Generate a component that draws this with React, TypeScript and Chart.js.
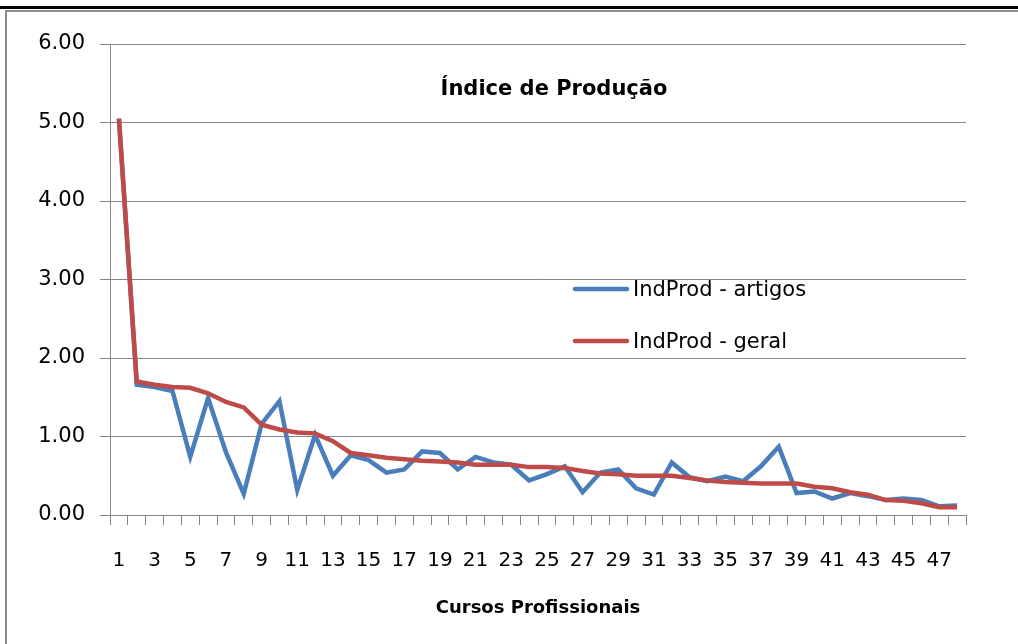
import React, { useEffect, useRef } from 'react';
import { Chart, registerables } from 'chart.js';

Chart.register(...registerables);

const categories: string[] = [
  '1', '2', '3', '4', '5', '6', '7', '8', '9', '10', '11', '12',
  '13', '14', '15', '16', '17', '18', '19', '20', '21', '22', '23', '24',
  '25', '26', '27', '28', '29', '30', '31', '32', '33', '34', '35', '36',
  '37', '38', '39', '40', '41', '42', '43', '44', '45', '46', '47', '48',
];

const indProdArtigos: number[] = [
  5.05, 1.66, 1.63, 1.58, 0.74, 1.49, 0.8, 0.27, 1.16, 1.45, 0.32, 1.02,
  0.5, 0.76, 0.7, 0.54, 0.58, 0.81, 0.79, 0.58, 0.74, 0.67, 0.64, 0.44,
  0.52, 0.62, 0.29, 0.54, 0.58, 0.34, 0.26, 0.67, 0.48, 0.43, 0.49, 0.43,
  0.62, 0.87, 0.28, 0.3, 0.21, 0.28, 0.24, 0.19, 0.21, 0.19, 0.11, 0.12,
];

const indProdGeral: number[] = [
  5.05, 1.7, 1.66, 1.63, 1.62, 1.55, 1.44, 1.37, 1.15, 1.09, 1.05, 1.04,
  0.94, 0.79, 0.76, 0.73, 0.71, 0.69, 0.68, 0.67, 0.64, 0.64, 0.64, 0.61,
  0.61, 0.6, 0.56, 0.53, 0.52, 0.5, 0.5, 0.5, 0.47, 0.44, 0.42, 0.41,
  0.4, 0.4, 0.4, 0.36, 0.34, 0.29, 0.26, 0.19, 0.18, 0.15, 0.1, 0.1,
];

const seriesNames: string[] = ['IndProd - artigos', 'IndProd - geral'];
const seriesColors: string[] = ['#4A7EBB', '#BE4B48'];
const chartTitle = 'Índice de Produção';
const xAxisTitle = 'Cursos Profissionais';
const yMin = 0;
const yMax = 6;
const yStep = 1;

const FONT = '"DejaVu Sans", "Liberation Sans", sans-serif';
const GRID = '#868686';

const overlayPlugin = {
  id: 'overlayTitleLegend',
  afterDraw(chart: any) {
    const ctx = chart.ctx as CanvasRenderingContext2D;
    ctx.save();
    ctx.fillStyle = '#000';
    ctx.textBaseline = 'alphabetic';
    ctx.font = `bold 21px ${FONT}`;
    ctx.textAlign = 'center';
    ctx.fillText(chartTitle, 554, 95);

    const rows = [
      { y: 289, base: 296 },
      { y: 341, base: 348 },
    ];
    ctx.font = `21px ${FONT}`;
    ctx.textAlign = 'left';
    seriesNames.forEach((name, i) => {
      const r = rows[i];
      ctx.strokeStyle = seriesColors[i];
      ctx.lineWidth = 4.5;
      ctx.lineCap = 'round';
      ctx.beginPath();
      ctx.moveTo(575, r.y);
      ctx.lineTo(627, r.y);
      ctx.stroke();
      ctx.fillStyle = '#000';
      ctx.fillText(name, 633, r.base);
    });
    ctx.restore();
  },
};

export default function App() {
  const canvasRef = useRef<HTMLCanvasElement | null>(null);

  useEffect(() => {
    const canvas = canvasRef.current;
    if (!canvas) return;
    const chart = new Chart(canvas, {
      type: 'line',
      data: {
        labels: categories,
        datasets: [
          {
            label: seriesNames[0],
            data: indProdArtigos,
            borderColor: seriesColors[0],
            backgroundColor: seriesColors[0],
            borderWidth: 4.5,
            pointRadius: 0,
            tension: 0,
            order: 1,
          },
          {
            label: seriesNames[1],
            data: indProdGeral,
            borderColor: seriesColors[1],
            backgroundColor: seriesColors[1],
            borderWidth: 4.5,
            pointRadius: 0,
            tension: 0,
            order: 0,
          },
        ],
      },
      options: {
        animation: false,
        responsive: false,
        maintainAspectRatio: false,
        events: [],
        layout: { padding: { top: 44, right: 52, left: 0, bottom: 0 } },
        plugins: {
          legend: { display: false },
          title: { display: false },
          tooltip: { enabled: false },
        },
        font: { family: FONT },
        scales: {
          x: {
            offset: true,
            grid: {
              offset: true,
              drawOnChartArea: false,
              tickLength: 10,
              color: GRID,
              lineWidth: 1,
            },
            border: { color: GRID, width: 1 },
            ticks: {
              autoSkip: false,
              maxRotation: 0,
              minRotation: 0,
              padding: 24,
              color: '#000',
              font: { family: FONT, size: 20 },
              callback: (_v: any, i: number) => (i % 2 === 0 ? categories[i] : ''),
            },
            title: {
              display: true,
              text: xAxisTitle,
              color: '#000',
              font: { family: FONT, size: 18, weight: 'bold' },
              padding: { top: 0, bottom: 25 },
            },
            afterFit: (s: any) => {
              s.height = 129;
            },
          },
          y: {
            min: yMin,
            max: yMax,
            grid: { color: GRID, tickLength: 10, lineWidth: 1 },
            border: { color: GRID, width: 1 },
            ticks: {
              stepSize: yStep,
              padding: 15,
              color: '#000',
              font: { family: FONT, size: 21 },
              callback: (v: any) => Number(v).toFixed(2),
            },
            afterFit: (s: any) => {
              s.width = 110;
            },
          },
        },
      } as any,
      plugins: [overlayPlugin],
    });
    return () => chart.destroy();
  }, []);

  return (
    <div
      style={{
        position: 'fixed',
        left: 0,
        top: 0,
        width: 1018,
        height: 644,
        background: '#fff',
        overflow: 'hidden',
      }}
    >
      <canvas
        ref={canvasRef}
        width={1018}
        height={644}
        style={{ position: 'absolute', left: 0, top: 0, width: 1018, height: 644 }}
      />
      <div style={{ position: 'absolute', left: 0, top: 6, width: 1018, height: 3, background: '#000' }} />
      <div style={{ position: 'absolute', left: 5, top: 10, width: 1013, height: 2, background: '#8c8c8c' }} />
      <div style={{ position: 'absolute', left: 5, top: 10, width: 2, height: 634, background: '#8c8c8c' }} />
    </div>
  );
}
